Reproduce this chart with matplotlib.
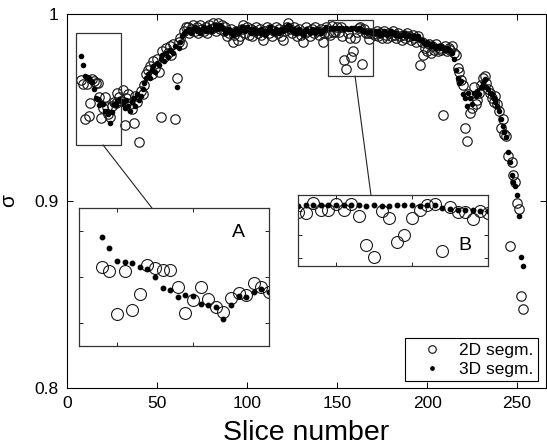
import matplotlib
matplotlib.use("Agg")
import matplotlib.pyplot as plt
from matplotlib.patches import Rectangle, ConnectionPatch

plt.rcParams["font.family"] = ["Liberation Sans", "DejaVu Sans"]

# slice numbers 8..253
slices = list(range(8, 254))

sigma_3d = [
    0.9775, 0.9727, 0.9668, 0.9664, 0.9659, 0.9645, 0.9635, 0.9601, 0.9551, 0.9543,
    0.9512, 0.9522, 0.9517, 0.9481, 0.9478, 0.9468, 0.9416, 0.9478, 0.9517, 0.9512,
    0.9535, 0.9546, 0.9535, 0.952, 0.950, 0.954, 0.951, 0.948, 0.953, 0.955,
    0.951, 0.957, 0.954, 0.956, 0.960, 0.963, 0.966, 0.968, 0.966, 0.970,
    0.972, 0.969, 0.974, 0.973, 0.976, 0.978, 0.975, 0.979, 0.977, 0.981,
    0.980, 0.979, 0.983, 0.961, 0.982, 0.985, 0.988, 0.990, 0.991, 0.991,
    0.992, 0.990, 0.992, 0.993, 0.991, 0.992, 0.990, 0.992, 0.993, 0.991,
    0.992, 0.993, 0.991, 0.992, 0.994, 0.993, 0.992, 0.994, 0.993, 0.992,
    0.990, 0.991, 0.992, 0.990, 0.989, 0.991, 0.992, 0.990, 0.991, 0.993,
    0.992, 0.991, 0.993, 0.992, 0.990, 0.991, 0.992, 0.990, 0.991, 0.990,
    0.992, 0.991, 0.989, 0.991, 0.992, 0.993, 0.991, 0.990, 0.992, 0.991,
    0.990, 0.992, 0.991, 0.993, 0.992, 0.994, 0.993, 0.991, 0.992, 0.990,
    0.991, 0.992, 0.990, 0.989, 0.991, 0.992, 0.991, 0.990, 0.992, 0.991,
    0.990, 0.992, 0.991, 0.990, 0.991, 0.992, 0.993, 0.992, 0.9924, 0.9926,
    0.9924, 0.9924, 0.9926, 0.9924, 0.9926, 0.9924, 0.9922, 0.9924, 0.9922, 0.9922,
    0.9926, 0.9926, 0.9924, 0.9922, 0.9924, 0.9924, 0.9912, 0.9908, 0.9906, 0.9904,
    0.9904, 0.9902, 0.9900, 0.991, 0.990, 0.991, 0.989, 0.990, 0.991, 0.990,
    0.989, 0.990, 0.991, 0.990, 0.989, 0.990, 0.989, 0.988, 0.989, 0.990,
    0.989, 0.988, 0.989, 0.988, 0.987, 0.988, 0.987, 0.988, 0.986, 0.986,
    0.985, 0.984, 0.985, 0.984, 0.983, 0.984, 0.983, 0.982, 0.983, 0.982,
    0.983, 0.982, 0.981, 0.982, 0.981, 0.980, 0.979, 0.976, 0.970, 0.966,
    0.963, 0.964, 0.957, 0.955, 0.951, 0.958, 0.955, 0.952, 0.958, 0.956,
    0.959, 0.957, 0.961, 0.963, 0.965, 0.961, 0.960, 0.958, 0.957, 0.955,
    0.953, 0.951, 0.948, 0.944, 0.940, 0.937, 0.934, 0.926, 0.921, 0.914,
    0.910, 0.908, 0.903, 0.892, 0.870, 0.865,
]

sigma_2d = [
    0.9645, 0.9625, 0.9439, 0.9625, 0.9456, 0.9526, 0.9652, 0.9640, 0.9630, 0.9630,
    0.9555, 0.9445, 0.9500, 0.9555, 0.9504, 0.9468, 0.9448, 0.9507, 0.9532, 0.9522,
    0.9575, 0.9555, 0.9535, 0.9594, 0.9406, 0.955, 0.957, 0.952, 0.949, 0.9415,
    0.956, 0.953, 0.9317, 0.959, 0.957, 0.962, 0.968, 0.970, 0.972, 0.968,
    0.975, 0.971, 0.976, 0.969, 0.945, 0.980, 0.977, 0.982, 0.979, 0.983,
    0.978, 0.984, 0.944, 0.966, 0.985, 0.987, 0.984, 0.991, 0.993, 0.993,
    0.990, 0.992, 0.994, 0.991, 0.993, 0.990, 0.994, 0.992, 0.991, 0.993,
    0.990, 0.994, 0.992, 0.995, 0.993, 0.991, 0.995, 0.992, 0.994, 0.991,
    0.993, 0.988, 0.990, 0.992, 0.985, 0.989, 0.991, 0.986, 0.988, 0.992,
    0.994, 0.990, 0.993, 0.989, 0.992, 0.988, 0.991, 0.993, 0.990, 0.992,
    0.989, 0.986, 0.991, 0.993, 0.990, 0.992, 0.988, 0.991, 0.993, 0.990,
    0.992, 0.988, 0.986, 0.991, 0.993, 0.995, 0.992, 0.990, 0.993, 0.991,
    0.988, 0.992, 0.989, 0.985, 0.990, 0.993, 0.991, 0.988, 0.992, 0.990,
    0.993, 0.991, 0.989, 0.992, 0.985, 0.990, 0.993, 0.9897, 0.9890, 0.9935,
    0.9904, 0.9903, 0.9928, 0.9903, 0.9928, 0.9881, 0.9756, 0.9705, 0.9900, 0.9872,
    0.9770, 0.9801, 0.9872, 0.9904, 0.9924, 0.9928, 0.9733, 0.9918, 0.9897, 0.9897,
    0.9867, 0.9900, 0.9893, 0.989, 0.991, 0.988, 0.990, 0.987, 0.991, 0.989,
    0.987, 0.990, 0.988, 0.991, 0.989, 0.987, 0.990, 0.988, 0.986, 0.989,
    0.987, 0.990, 0.988, 0.986, 0.989, 0.987, 0.985, 0.988, 0.973, 0.985,
    0.978, 0.982, 0.980, 0.984, 0.979, 0.983, 0.981, 0.984, 0.980, 0.982,
    0.981, 0.946, 0.983, 0.980, 0.982, 0.981, 0.983, 0.979, 0.978, 0.971,
    0.969, 0.9647, 0.962, 0.939, 0.932, 0.957, 0.947, 0.950, 0.961, 0.952,
    0.954, 0.958, 0.962, 0.966, 0.967, 0.963, 0.960, 0.958, 0.955, 0.953,
    0.956, 0.952, 0.948, 0.939, 0.944, 0.936, 0.935, 0.924, 0.876, 0.921,
    0.914, 0.910, 0.899, 0.896, 0.849, 0.842,
]

x_ticks = [0, 50, 100, 150, 200, 250]
y_ticks = [0.8, 0.9, 1.0]
y_ticklabels = ["0.8", "0.9", "1"]

zoom_a = (5, 30, 0.93, 0.99)
zoom_b = (145, 170, 0.9668, 0.9968)

fig = plt.figure(figsize=(5.47, 4.45), dpi=100)
ax = fig.add_axes([0.1225, 0.128, 0.8755, 0.8405])

ax.plot(slices, sigma_2d, linestyle="none", marker="o", markersize=6.8,
        markerfacecolor="none", markeredgecolor="#1a1a1a", markeredgewidth=0.85,
        label="2D segm.")
ax.plot(slices, sigma_3d, linestyle="none", marker="o", markersize=3.0,
        color="black", label="3D segm.")

ax.set_xlim(0, 266)
ax.set_ylim(0.8, 1.0)
ax.set_xticks(x_ticks)
ax.set_yticks(y_ticks)
ax.set_yticklabels(y_ticklabels)
ax.tick_params(direction="in", top=True, right=True, length=4, width=0.7,
               labelsize=12.5, pad=6)
for sp in ax.spines.values():
    sp.set_linewidth(0.8)
ax.set_xlabel("Slice number", fontsize=20.5, labelpad=6)
ax.set_ylabel("σ", fontsize=15, rotation=90, labelpad=12)

leg = ax.legend(loc="lower right", bbox_to_anchor=(0.983, 0.019), fontsize=12.5,
                frameon=True, fancybox=False, edgecolor="black", framealpha=1,
                handlelength=2.6, handletextpad=0.25, borderpad=0.25,
                borderaxespad=0, labelspacing=0.2, markerscale=0.8)
leg.get_frame().set_linewidth(0.8)

# zoom rectangles on the main plot
for x0, x1, y0, y1 in (zoom_a, zoom_b):
    ax.add_patch(Rectangle((x0, y0), x1 - x0, y1 - y0, fill=False,
                           edgecolor="#333333", linewidth=0.9, zorder=3))


def make_inset(rect, lims, xt, yt, letter, letter_pos):
    ins = fig.add_axes(rect)
    ins.plot(slices, sigma_2d, linestyle="none", marker="o", markersize=8.6,
             markerfacecolor="none", markeredgecolor="#1a1a1a", markeredgewidth=0.8)
    ins.plot(slices, sigma_3d, linestyle="none", marker="o", markersize=3.2,
             color="black")
    ins.set_xlim(lims[0], lims[1])
    ins.set_ylim(lims[2], lims[3])
    ins.set_xticks(xt)
    ins.set_yticks(yt)
    ins.tick_params(direction="in", top=True, right=True, length=3, width=0.6,
                    labelbottom=False, labelleft=False)
    for sp in ins.spines.values():
        sp.set_linewidth(0.9)
        sp.set_edgecolor("#333333")
    ins.text(letter_pos[0], letter_pos[1], letter, transform=ins.transAxes,
             fontsize=14, ha="center", va="center")
    return ins


ins_a = make_inset([0.1444, 0.2225, 0.3473, 0.3101], zoom_a, [10, 20],
                   [0.94, 0.96, 0.98], "A", (0.84, 0.82))
ins_b = make_inset([0.5448, 0.4022, 0.3473, 0.1596], zoom_b, [150, 160],
                   [0.97, 0.98, 0.99], "B", (0.88, 0.29))

# connector lines from the zoom boxes to the insets
for xa, ya, ins, xb, yb in ((20, zoom_a[2], ins_a, 14.6, zoom_a[3]),
                            (160, zoom_b[2], ins_b, 154.6, zoom_b[3])):
    con = ConnectionPatch(xyA=(xa, ya), coordsA=ax.transData,
                          xyB=(xb, yb), coordsB=ins.transData,
                          color="#222222", linewidth=0.8)
    fig.add_artist(con)

fig.savefig("out.png", dpi=100)
